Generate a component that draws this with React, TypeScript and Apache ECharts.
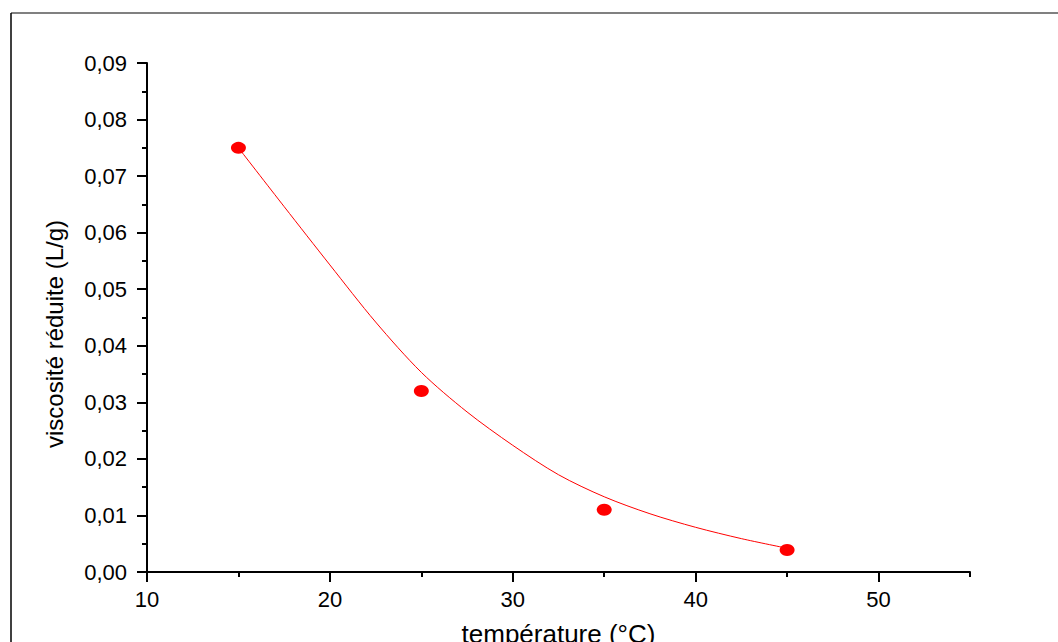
import React, { useEffect, useRef } from "react";
import * as echarts from "echarts";

const temperature = [15, 25, 35, 45];
const viscosity = [0.075, 0.032, 0.011, 0.0039];

const fitTemperature = [15, 17.5, 20, 22.5, 25, 27.5, 30, 32.5, 35, 37.5, 40, 42.5, 45];
const fitViscosity = [0.075, 0.0646, 0.0543, 0.0442, 0.0353, 0.0283, 0.0224, 0.0172, 0.0133, 0.0103, 0.0079, 0.0059, 0.0042];

const xMajorTicks = [10, 20, 30, 40, 50];
const xMinorTicks = [15, 25, 35, 45, 55];

const xTitle = "température (°C)";
const yTitle = "viscosité réduite (L/g)";

const FONT = "'Liberation Sans', Arial, sans-serif";

export default function App() {
  const ref = useRef<HTMLDivElement>(null);

  useEffect(() => {
    if (!ref.current) return;
    const chart = echarts.init(ref.current, undefined, { renderer: "svg" });
    const axisColor = "#000";
    chart.setOption({
      animation: false,
      backgroundColor: "#fff",
      grid: {
        left: 147,
        top: 63,
        width: 823,
        height: 509,
        containLabel: false,
        outerBoundsMode: "none",
      },
      xAxis: [
        {
          type: "value",
          min: 10,
          max: 55,
          interval: 5,
          position: "bottom",
          axisLine: { show: true, onZero: false, lineStyle: { color: axisColor, width: 2 } },
          axisTick: {
            show: true,
            length: 10,
            customValues: xMajorTicks,
            lineStyle: { color: axisColor, width: 2 },
          },
          axisLabel: {
            customValues: xMajorTicks,
            fontSize: 22,
            color: "#000",
            fontFamily: FONT,
            margin: 16,
          },
          splitLine: { show: false },
          name: xTitle,
          nameLocation: "middle",
          nameGap: 49,
          nameTextStyle: { fontSize: 26, color: "#000", fontFamily: FONT },
        },
        {
          type: "value",
          min: 10,
          max: 55,
          interval: 5,
          position: "bottom",
          axisLine: { show: false },
          axisTick: {
            show: true,
            length: 5,
            customValues: xMinorTicks,
            lineStyle: { color: axisColor, width: 2 },
          },
          axisLabel: { show: false },
          splitLine: { show: false },
        },
      ],
      yAxis: {
        type: "value",
        min: 0,
        max: 0.09,
        interval: 0.01,
        axisLine: { show: true, onZero: false, lineStyle: { color: axisColor, width: 2 } },
        axisTick: { show: true, length: 10, lineStyle: { color: axisColor, width: 2 } },
        minorTick: { show: true, splitNumber: 2, length: 5, lineStyle: { color: axisColor, width: 2 } },
        axisLabel: {
          fontSize: 22,
          color: "#000",
          fontFamily: FONT,
          margin: 20,
          formatter: (v: number) => v.toFixed(2).replace(".", ","),
        },
        splitLine: { show: false },
        minorSplitLine: { show: false },
      },
      graphic: [
        {
          type: "line",
          shape: { x1: 11, y1: 13, x2: 1058, y2: 13 },
          style: { stroke: "#808080", lineWidth: 2 },
        },
        {
          type: "line",
          shape: { x1: 11, y1: 13, x2: 11, y2: 642 },
          style: { stroke: "#000", lineWidth: 1.5 },
        },
        {
          type: "text",
          x: 54,
          y: 334,
          rotation: Math.PI / 2,
          style: {
            text: yTitle,
            fontSize: 24,
            fontFamily: FONT,
            fill: "#000",
            textAlign: "center",
            textVerticalAlign: "middle",
          },
        },
      ],
      series: [
        {
          type: "line",
          xAxisIndex: 0,
          data: fitTemperature.map((t, i) => [t, fitViscosity[i]]),
          smooth: 0.3,
          showSymbol: false,
          symbol: "none",
          lineStyle: { color: "#ff0000", width: 1 },
          z: 2,
        },
        {
          type: "scatter",
          xAxisIndex: 0,
          data: temperature.map((t, i) => [t, viscosity[i]]),
          symbol: "circle",
          symbolSize: [15, 12],
          itemStyle: { color: "#ff0000", opacity: 1 },
          z: 3,
        },
      ],
    });
    return () => chart.dispose();
  }, []);

  return (
    <div
      ref={ref}
      style={{ position: "fixed", left: 0, top: 0, width: 1058, height: 642 }}
    />
  );
}
